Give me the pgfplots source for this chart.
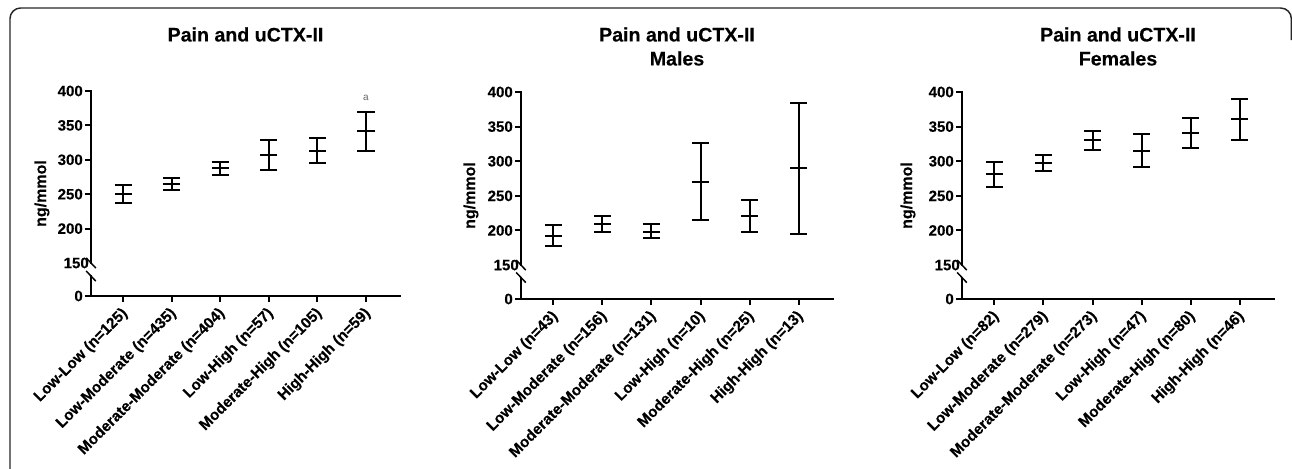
\documentclass[border=0pt]{standalone}
\usepackage{pgfplots}
\pgfplotsset{compat=1.18}
\usepackage{fontspec}
\setmainfont{Liberation Sans}[BoldFeatures={FakeBold=0.25}]

\newcommand\tkl[1]{\mbox{\bfseries\fontsize{11.25}{13}\selectfont #1}}
\newcommand\xkl[1]{\mbox{\bfseries\fontsize{11.5}{13}\selectfont #1}}

\pgfplotstableread{
x y ep em
0 251 13 14
1 265 9 9
2 287.5 9.5 9.5
3 307.5 21.5 22.5
4 313.5 18 18
5 341.5 28 28
}\tabAll
\pgfplotstableread{
x y ep em
0 192 16 15
1 209 12 11.5
2 198.5 10.5 10
3 270.5 55.5 55.5
4 220.5 23 22.5
5 290 94 95
}\tabMale
\pgfplotstableread{
x y ep em
0 281 18.5 18.5
1 298 11 12
2 330 13 13.5
3 315.5 23.5 24
4 340.5 21.5 22
5 360.5 29.5 29.5
}\tabFemale

\pgfplotsset{
  painaxis/.style={
    scale only axis,
    anchor=north west,
    axis x line*=bottom,
    axis y line*=left,
    x axis line style={line width=1.5pt, line cap=rect},
    y axis line style={draw=none},
    xmin=-0.66, xmax=5.7,
    ymax=400,
    xtick={0,...,5},
    tick align=outside,
    major tick length=4.5pt,
    every tick/.style={black, line width=1.5pt},
    extra y ticks={150}, extra y tick labels={\tkl{150}},
    extra y tick style={major tick length=0pt},
    yticklabel style={inner sep=1.5pt},
    xticklabel style={xshift=2.5pt, yshift=-6pt, rotate=45, anchor=east, inner sep=1pt},
    yticklabels={\tkl{0},\tkl{200},\tkl{250},\tkl{300},\tkl{350},\tkl{400}},
    title style={at={(0.5,1)}, anchor=north, align=center, inner sep=0pt,
      font=\bfseries\fontsize{14.7}{18}\selectfont},
    every axis y label/.style={at={(axis description cs:0,0.5)}, rotate=90, anchor=center,
      font=\bfseries\fontsize{12}{14}\selectfont},
    ylabel={\textbf{ng/mmol}},
    clip=false,
  },
  bars/.style={only marks, black, mark=-, mark size=6.4pt, mark options={line width=1.5pt},
    error bars/.cd, y dir=both, y explicit,
    error bar style={line width=1.5pt, black},
    error mark options={mark size=6.4pt, line width=1.5pt, black, rotate=90}},
}

\newcommand{\brokenaxis}[2]{%
  \draw[line width=1.5pt, line cap=rect] (axis cs:-0.66,400) -- (axis cs:-0.66,150);
  \draw[line width=1.5pt, line cap=rect] (axis cs:-0.66,#1) -- (axis cs:-0.66,#2);
  \draw[line width=1.1pt] (axis cs:-0.66,150) ++(-3.6pt,3.8pt) -- ++(7.2pt,-7.6pt);
  \draw[line width=1.1pt] (axis cs:-0.66,#1) ++(-3.6pt,3.8pt) -- ++(7.2pt,-7.6pt);
}

\begin{document}
\begin{tikzpicture}
\useasboundingbox (0,0) rectangle (969pt,-351pt);
\draw[line width=1.1pt, color=black!85, rounded corners=8pt]
  (7.5pt,-360pt) -- (7.5pt,-6pt) -- (968.5pt,-6pt) -- (968.5pt,-30pt);

% Panel 1
\begin{axis}[painaxis,
  at={(68.25pt,-68.25pt)}, width=231.75pt, height=153.75pt,
  ymin=102, ytick={102,200,250,300,350,400},
  xticklabels={\xkl{Low-Low (n=125)},\xkl{Low-Moderate (n=435)},\xkl{Moderate-Moderate (n=404)},\xkl{Low-High (n=57)},\xkl{Moderate-High (n=105)},\xkl{High-High (n=59)}},
  title={Pain and uCTX-II}, title style={yshift=42pt},
  ylabel style={yshift=36.75pt}]
\addplot[bars] table[x=x, y=y, y error plus=ep, y error minus=em] {\tabAll};
\brokenaxis{131}{102}
\node[font=\fontsize{7.5}{9}\selectfont, text=black!60] at (axis cs:5,390) {a};
\end{axis}

% Panel 2
\begin{axis}[painaxis,
  at={(390.75pt,-69pt)}, width=234pt, height=155.25pt,
  ymin=101, ytick={101,200,250,300,350,400},
  xticklabels={\xkl{Low-Low (n=43)},\xkl{Low-Moderate (n=156)},\xkl{Moderate-Moderate (n=131)},\xkl{Low-High (n=10)},\xkl{Moderate-High (n=25)},\xkl{High-High (n=13)}},
  title={Pain and uCTX-II\\Males}, title style={yshift=42.75pt},
  ylabel style={yshift=37.5pt}]
\addplot[bars] table[x=x, y=y, y error plus=ep, y error minus=em] {\tabMale};
\brokenaxis{132}{101}
\end{axis}

% Panel 3
\begin{axis}[painaxis,
  at={(721.5pt,-69pt)}, width=234pt, height=155.25pt,
  ymin=101, ytick={101,200,250,300,350,400},
  xticklabels={\xkl{Low-Low (n=82)},\xkl{Low-Moderate (n=279)},\xkl{Moderate-Moderate (n=273)},\xkl{Low-High (n=47)},\xkl{Moderate-High (n=80)},\xkl{High-High (n=46)}},
  title={Pain and uCTX-II\\Females}, title style={yshift=42.75pt},
  ylabel style={yshift=40.5pt}]
\addplot[bars] table[x=x, y=y, y error plus=ep, y error minus=em] {\tabFemale};
\brokenaxis{132}{101}
\end{axis}
\end{tikzpicture}
\end{document}
